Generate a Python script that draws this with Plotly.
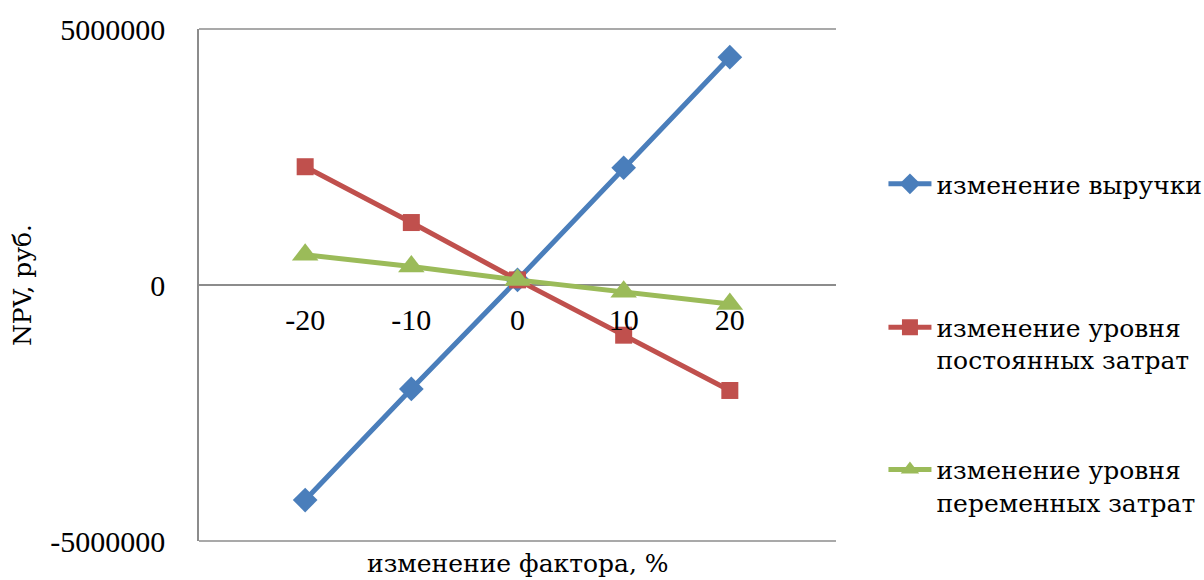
import plotly.graph_objects as go

# Sensitivity of NPV to a change in each factor
factor_change = [-20, -10, 0, 10, 20]
npv_revenue = [-4200000, -2030000, 100000, 2290000, 4450000]
npv_fixed_costs = [2310000, 1220000, 100000, -980000, -2060000]
npv_variable_costs = [590000, 360000, 100000, -130000, -370000]

series_names = [
    "изменение выручки",
    "изменение уровня<br>постоянных затрат",
    "изменение уровня<br>переменных затрат",
]
series_colors = ["#4A7EBB", "#C0504D", "#9BBB59"]
series_symbols = ["diamond", "square", "triangle-up"]
series_sizes = [19, 17, 23]
y_ticks = [-5000000, 0, 5000000]
x_ticks = [-20, -10, 0, 10, 20]

FONT = "Liberation Serif"
CYR_FONT = "DejaVu Serif"
GRID = "#8C8C8C"

fig = go.Figure()
series = [npv_revenue, npv_fixed_costs, npv_variable_costs]
legend_ids = ["legend", "legend2", "legend3"]
for name, values, color, symbol, size, lg in zip(series_names, series, series_colors,
                                                 series_symbols, series_sizes, legend_ids):
    fig.add_trace(go.Scatter(
        x=factor_change, y=values, name=name, mode="lines+markers",
        line=dict(color=color, width=5),
        marker=dict(color=color, symbol=symbol, size=size),
        legend=lg, showlegend=True,
    ))

legend_common = dict(
    font=dict(family=CYR_FONT, size=25, color="black"),
    bgcolor="rgba(0,0,0,0)",
    xanchor="left", yanchor="top", valign="top",
    itemwidth=43, x=1.0745, visible=True,
)

fig.update_layout(
    width=1204, height=580,
    margin=dict(l=199, r=368, t=29, b=39, autoexpand=False),
    paper_bgcolor="white", plot_bgcolor="white",
    showlegend=True,
    font=dict(family=FONT, size=30, color="black"),
    legend=dict(**legend_common, y=0.742),
    legend2=dict(**legend_common, y=0.462),
    legend3=dict(**legend_common, y=0.184),
    xaxis=dict(
        range=[-30, 30], tickvals=x_ticks, ticktext=[str(v) for v in x_ticks],
        anchor="free", position=0.5, showgrid=False, zeroline=False,
        showline=False, ticks="", ticklabelstandoff=14,
        tickfont=dict(family=FONT, size=30, color="black"),
    ),
    yaxis=dict(
        range=[-5000000, 5000000], tickvals=y_ticks,
        ticktext=[str(v) for v in y_ticks],
        showgrid=True, gridcolor=GRID, gridwidth=1.5,
        zeroline=True, zerolinecolor=GRID, zerolinewidth=1.5,
        showline=True, linecolor=GRID, linewidth=1.5,
        ticks="", ticklabelstandoff=26,
        tickfont=dict(family=FONT, size=30, color="black"),
        title=dict(text="NPV, руб.", standoff=12,
                   font=dict(family=CYR_FONT, size=25, color="black")),
    ),
    annotations=[dict(
        text="изменение фактора, %", xref="paper", yref="paper",
        x=0.5, y=-39 / 512, xanchor="center", yanchor="bottom", showarrow=False,
        font=dict(family=CYR_FONT, size=25, color="black"),
    )],
    shapes=[
        # top and bottom border lines of the plotting area
        dict(type="line", xref="paper", yref="paper", x0=0, x1=1, y0=1, y1=1,
             line=dict(color=GRID, width=1.5), layer="below"),
        dict(type="line", xref="paper", yref="paper", x0=0, x1=1, y0=0, y1=0,
             line=dict(color=GRID, width=1.5), layer="below"),
    ],
)

fig.write_html("out.html")
